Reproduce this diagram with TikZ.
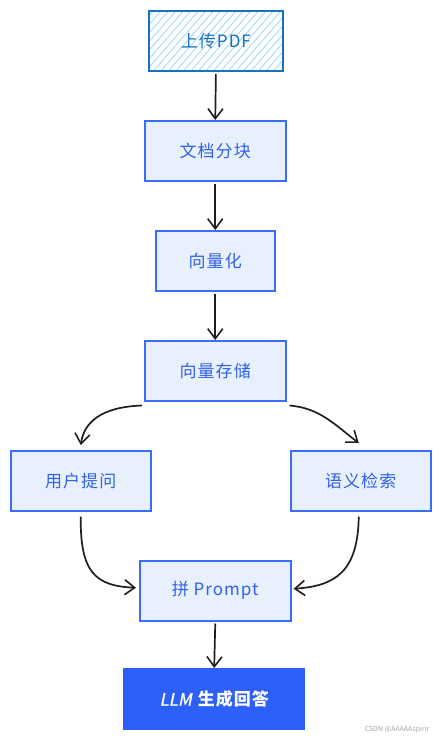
\documentclass[tikz,border=0pt]{standalone}
\usepackage{fontspec}
\setmainfont{Noto Sans CJK SC}
\newfontfamily\slantf[FakeSlant=0.2,FakeBold=1]{Noto Sans CJK SC}
\usetikzlibrary{arrows.meta}
\definecolor{bfill}{HTML}{E8EFFD}
\definecolor{bdraw}{HTML}{3A6EF5}
\definecolor{btext}{HTML}{3262E6}
\definecolor{pdraw}{HTML}{1971C2}
\definecolor{phatch}{HTML}{A5D8FF}
\definecolor{llm}{HTML}{2C60F6}
\definecolor{arr}{HTML}{1E1E1E}
\tikzset{
  lbl/.style={font=\fontsize{17}{19}\selectfont\addfontfeature{LetterSpace=6}},
  box/.style={draw=bdraw, fill=bfill, line width=1.5pt, text=btext, lbl, inner sep=0pt, anchor=north west},
  conn/.style={draw=arr, line width=1.7pt, -{Straight Barb[length=10pt,width=15pt,line width=1.6pt]}},
}
\begin{document}
\begin{tikzpicture}[x=1pt,y=-1pt]
\useasboundingbox (0,0) rectangle (440,740);
% upload PDF with hatching
\begin{scope}
\clip (148,10) rectangle (282,70);
\fill[white] (148,10) rectangle (282,70);
\foreach \i in {0,7.5,...,220} {
  \draw[phatch, line width=0.9pt] (148+\i-70,80) -- (148+\i,0);
}
\end{scope}
\node[draw=pdraw, line width=1.8pt, minimum width=134pt, minimum height=60pt, inner sep=0pt, anchor=north west, text=pdraw, lbl] (pdf) at (148,10) {上传PDF};
\node[box, minimum width=141pt, minimum height=60pt] (chunk) at (144,120) {文档分块};
\node[box, minimum width=119pt, minimum height=60pt] (vec) at (155,230) {向量化};
\node[box, minimum width=141pt, minimum height=60pt] (store) at (144,340) {向量存储};
\node[box, minimum width=140pt, minimum height=60pt] (ask) at (10,450) {用户提问};
\node[box, minimum width=140pt, minimum height=60pt] (sem) at (290,450) {语义检索};
\node[box, minimum width=151pt, minimum height=60pt] (prompt) at (139,560) {拼 Prompt};
\node[fill=llm, text=white, minimum width=182pt, minimum height=62pt, inner sep=0pt, anchor=north west, lbl] (ans) at (123,668) {{\slantf LLM}\hspace{6pt}{\bfseries 生成回答}};
\node[anchor=east, text=gray!70, font=\fontsize{7}{8}\selectfont] (wm) at (433,730) {CSDN @AAAAAspirir};
% connectors
\draw[conn] ([yshift=-2pt]pdf.south) -- (chunk.north);
\draw[conn] ([yshift=-2pt]chunk.south) -- (vec.north);
\draw[conn] ([yshift=-2pt]vec.south) -- (store.north);
\draw[conn] ([xshift=-2pt,yshift=-4pt]store.south west) .. controls (100,407) and (84,423) .. ([yshift=5pt]ask.north);
\draw[conn] ([xshift=3pt,yshift=-4pt]store.south east) .. controls (320,408) and (335,425) .. ([xshift=-2pt,yshift=7pt]sem.north);
\draw[conn] ([yshift=-5pt]ask.south) .. controls (80,572) and (95,586) .. ([xshift=-3pt,yshift=3pt]prompt.west);
\draw[conn] ([xshift=-2pt,yshift=-5pt]sem.south) .. controls (358,572) and (335,586) .. ([xshift=2pt,yshift=2pt]prompt.east);
\draw[conn] ([yshift=-2pt]prompt.south) -- (ans.north);
\end{tikzpicture}
\end{document}
